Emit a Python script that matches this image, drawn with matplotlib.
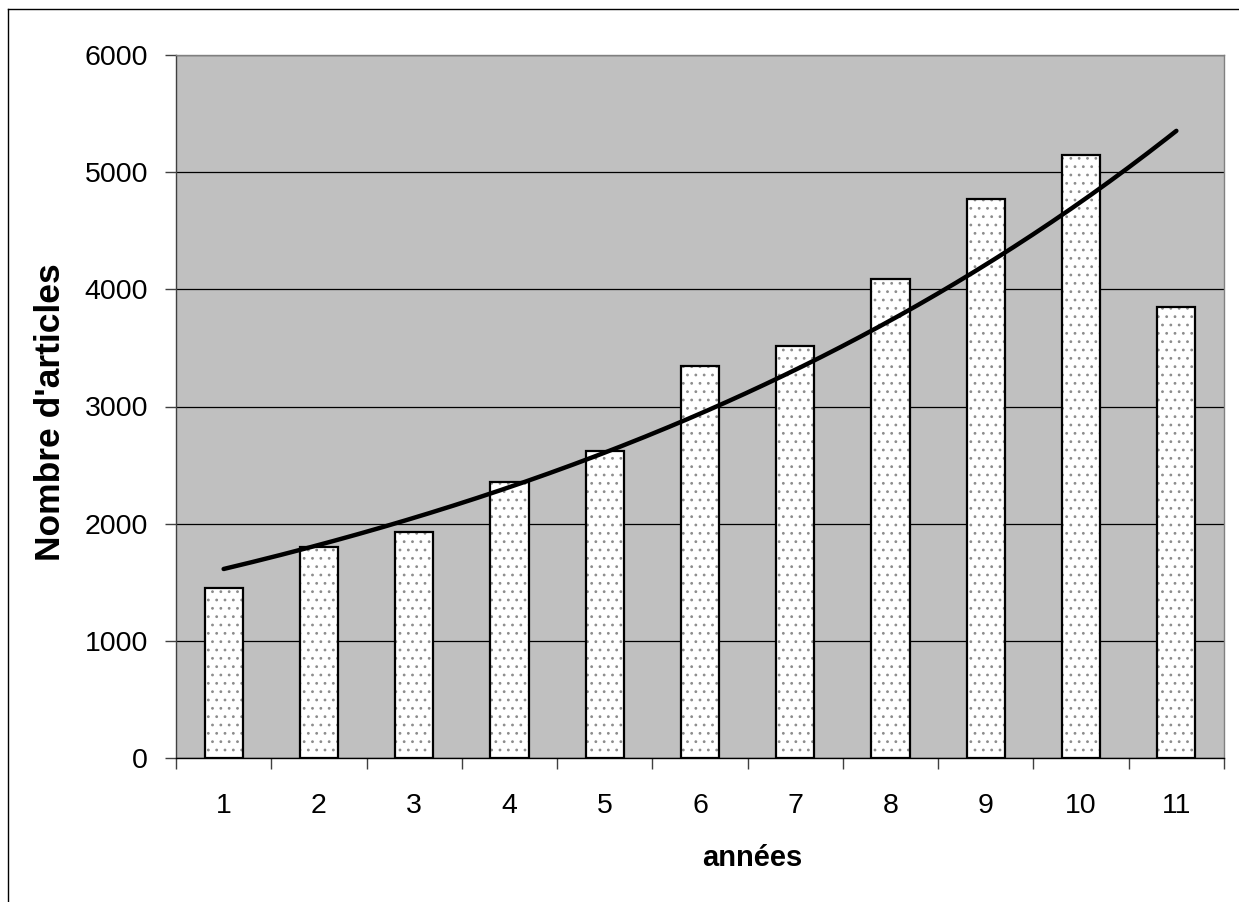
import numpy as np
import matplotlib.pyplot as plt
from matplotlib.lines import Line2D

# nombre d'articles publiés par année
annees = [1, 2, 3, 4, 5, 6, 7, 8, 9, 10, 11]
articles = [1450, 1800, 1930, 2355, 2620, 3345, 3515, 4085, 4770, 5145, 3850]
graduations_y = [0, 1000, 2000, 3000, 4000, 5000, 6000]

plt.rcParams['font.family'] = ['Liberation Sans', 'DejaVu Sans']
plt.rcParams['hatch.linewidth'] = 0.8

fig = plt.figure(figsize=(12.39, 9.02), dpi=100)
ax = fig.add_axes([176 / 1239, 1 - 758 / 902, 1048 / 1239, 703 / 902])
ax.set_facecolor('#c0c0c0')

# barres : trame pointillée grise puis contour noir par-dessus
ax.bar(annees, articles, width=0.4, color='white', edgecolor='#8c8c8c',
       linewidth=0, hatch='..', zorder=2)
ax.bar(annees, articles, width=0.4, fill=False, edgecolor='black',
       linewidth=1.6, zorder=2)

# courbe de tendance exponentielle (ajustement sur le log des valeurs)
pente, origine = np.polyfit(annees, np.log(articles), 1)
xs = np.linspace(annees[0], annees[-1], 200)
ax.plot(xs, np.exp(origine + pente * xs), color='black', lw=3.2, zorder=3,
        solid_capstyle='round')

ax.set_xlim(0.5, 11.5)
ax.set_ylim(0, 6000)
ax.set_yticks(graduations_y)
ax.yaxis.grid(True, color='black', lw=0.9)
ax.set_axisbelow(True)

# graduations x entre les catégories, étiquettes au centre
ax.set_xticks(np.arange(0.5, 12, 1))
ax.set_xticklabels([])
ax.set_xticks(annees, minor=True)
ax.set_xticklabels([str(a) for a in annees], minor=True)
ax.tick_params(axis='x', which='major', length=8, width=1, color='#404040',
               direction='out')
ax.tick_params(axis='x', which='minor', length=0, pad=25, labelsize=20.5)
ax.tick_params(axis='y', length=8, width=1, color='#404040', pad=12,
               labelsize=20.5)

ax.spines['bottom'].set_color('black')
ax.spines['left'].set_color('#404040')
ax.spines['right'].set_color('#808080')
ax.spines['top'].set_color('#808080')
for s in ax.spines.values():
    s.set_linewidth(1)

fig.text(51 / 1239, 1 - 412 / 902, "Nombre d'articles", rotation=90,
         ha='center', va='center', fontsize=25.5, fontweight='bold')
fig.text(752 / 1239, 1 - 858 / 902, 'années', ha='center', va='center',
         fontsize=21, fontweight='bold')

# cadre du graphique
fig.add_artist(Line2D([8 / 1239, 8 / 1239], [0, 1 - 9 / 902],
                      transform=fig.transFigure, color='black', lw=1))
fig.add_artist(Line2D([8 / 1239, 1], [1 - 9 / 902, 1 - 9 / 902],
                      transform=fig.transFigure, color='black', lw=1))

fig.savefig('out.png', dpi=100)
